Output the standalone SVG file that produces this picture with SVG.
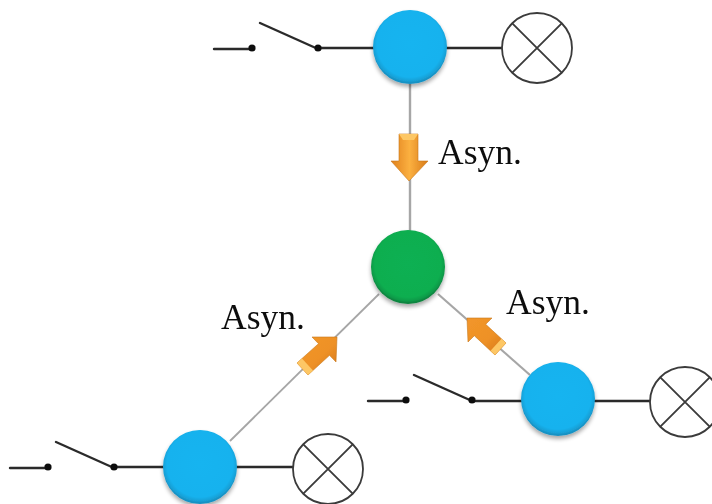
<svg xmlns="http://www.w3.org/2000/svg" width="712" height="504" viewBox="0 0 712 504">
<style>
.wire{stroke:#2b2b2b;stroke-width:2.4;fill:none;stroke-linecap:round}
.link{stroke:#a6a6a6;fill:none}
.bulb{fill:#fff;stroke:#3a3a3a;stroke-width:1.8}
.bulbx{stroke:#3a3a3a;stroke-width:1.8;fill:none}
.dot{fill:#111}
.lbl{font-family:"Liberation Serif","Times New Roman",serif;font-size:35.500px;fill:#111}
.arrow{stroke:#c8791c;stroke-width:.6;stroke-linejoin:round}
.soft{filter:url(#soft)}
</style>
<defs>
<filter id="soft" x="-10%" y="-10%" width="120%" height="120%"><feGaussianBlur stdDeviation="0.45"/></filter>
<filter id="shadow" x="-20%" y="-20%" width="140%" height="150%">
<feGaussianBlur in="SourceAlpha" stdDeviation="2"/><feOffset dy="3"/>
<feComponentTransfer><feFuncA type="linear" slope="0.35"/></feComponentTransfer>
<feMerge><feMergeNode/><feMergeNode in="SourceGraphic"/></feMerge>
</filter>
<radialGradient id="blue" cx="50%" cy="46%" r="52%">
<stop offset="0" stop-color="#12b4f0"/><stop offset=".86" stop-color="#12b2ee"/><stop offset=".96" stop-color="#1aa0d6"/><stop offset="1" stop-color="#1792c4"/>
</radialGradient>
<radialGradient id="green" cx="50%" cy="46%" r="52%">
<stop offset="0" stop-color="#0cb052"/><stop offset=".86" stop-color="#0bae50"/><stop offset=".96" stop-color="#109a48"/><stop offset="1" stop-color="#0f8540"/>
</radialGradient>
<linearGradient id="org" x1="0" y1="0" x2="1" y2="0">
<stop offset="0" stop-color="#e0801c"/><stop offset=".5" stop-color="#fbb040"/><stop offset="1" stop-color="#d87a18"/>
</linearGradient>
<linearGradient id="orgD" x1="0" y1="0" x2="1" y2="1">
<stop offset="0" stop-color="#f2962a"/><stop offset=".55" stop-color="#ee9126"/><stop offset="1" stop-color="#d2741a"/>
</linearGradient>
<g id="lamp">
<circle class="bulb" r="35"/>
<path class="bulbx" d="M-24.700 -24.700L24.700 24.700M-24.700 24.700L24.700 -24.700"/>
</g>
<g id="switch">
<path class="wire" d="M0 0H38"/>
<path class="wire" d="M46 -26L104 0"/>
<circle class="dot" cx="38" cy="-1" r="3.600"/>
<circle class="dot" cx="104" cy="-1" r="3.600"/>
</g>
</defs>

<g id="connectors" class="soft">
<path class="link" stroke-width="2.400" d="M410 84V232"/>
<path class="link" stroke-width="1.800" d="M379 294L230 441"/>
<path class="link" stroke-width="2.200" d="M438 294L530 375"/>
<path class="wire" d="M318 48H374M447 48H502"/>
<path class="wire" d="M114 467H164M237 467H293"/>
<path class="wire" d="M472 401H522M595 401H650"/>
</g>

<g id="switch-top" class="soft"><use href="#switch" x="214" y="49"/></g>
<g id="switch-left" class="soft"><use href="#switch" x="10" y="468"/></g>
<g id="switch-right" class="soft"><use href="#switch" x="368" y="401"/></g>

<g id="lamp-top" class="soft"><use href="#lamp" x="537" y="48"/></g>
<g id="lamp-left" class="soft"><use href="#lamp" x="328" y="469"/></g>
<g id="lamp-right" class="soft"><use href="#lamp" x="685" y="402"/></g>

<g id="node-top"><circle cx="410" cy="47" r="37" fill="url(#blue)" filter="url(#shadow)"/></g>
<g id="node-center"><circle cx="408" cy="267" r="37" fill="url(#green)" filter="url(#shadow)"/></g>
<g id="node-left"><circle cx="200" cy="467" r="37" fill="url(#blue)" filter="url(#shadow)"/></g>
<g id="node-right"><circle cx="558" cy="399" r="37" fill="url(#blue)" filter="url(#shadow)"/></g>

<g id="arrow-top" class="soft">
<path class="arrow" fill="url(#org)" d="M399 134H418V161H428L409 181L391 161H399Z"/>
<path fill="#fdc765" d="M399 134H418L414 140H403Z"/>
</g>
<g id="arrow-left" class="soft">
<path class="arrow" fill="url(#orgD)" d="M337 337L336 362L329.500 355.300L308 375L297 363L318.500 343.700L312 337Z"/>
<path fill="#fdc765" d="M297 363L308 375L313 370.500L302 358.500Z"/>
</g>
<g id="arrow-right" class="soft">
<path class="arrow" fill="url(#orgD)" d="M467 318L492 318L485.700 324.300L506 343L495 355L474.300 335.700L468 342Z"/>
<path fill="#fdc765" d="M506 343L495 355L490.500 350.800L501.500 338.800Z"/>
</g>

<g id="labels" class="soft">
<text class="lbl" x="438" y="164">Asyn.</text>
<text class="lbl" x="221" y="329">Asyn.</text>
<text class="lbl" x="506" y="314">Asyn.</text>
</g>
</svg>
